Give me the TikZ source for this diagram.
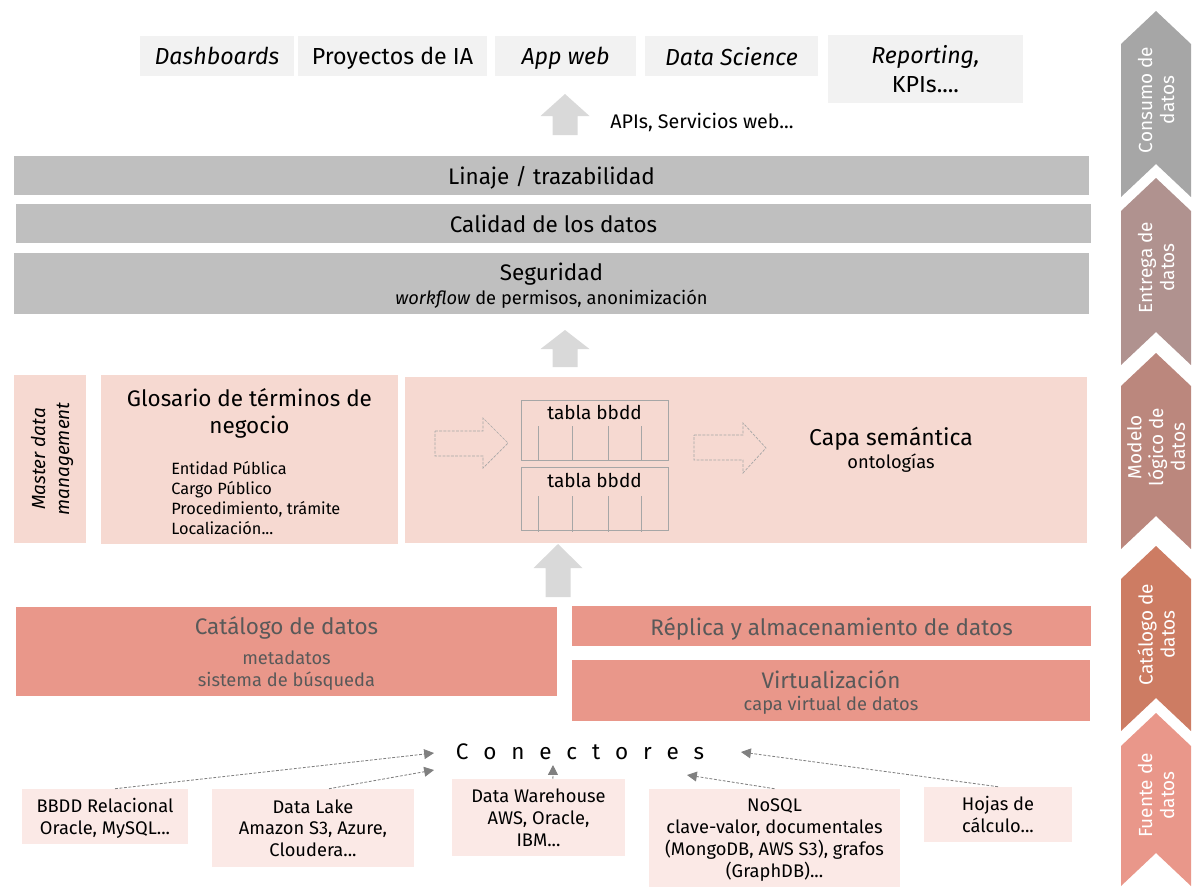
\documentclass[tikz,border=0pt]{standalone}
\usepackage{fontspec}
\setmainfont{Fira Sans}
\usepackage{tikz}
\usetikzlibrary{arrows.meta}
\definecolor{topgray}{HTML}{F2F2F2}
\definecolor{bargray}{HTML}{BFBFBF}
\definecolor{arrowgray}{HTML}{D9D9D9}
\definecolor{pinkbg}{HTML}{F6D9D1}
\definecolor{salmon}{HTML}{E9978A}
\definecolor{srcbg}{HTML}{FBE9E6}
\definecolor{darktext}{HTML}{595959}
\definecolor{conngray}{HTML}{808080}
\definecolor{tablegray}{HTML}{A6A6A6}
\definecolor{chevA}{HTML}{A6A6A6}
\definecolor{chevB}{HTML}{B0928F}
\definecolor{chevC}{HTML}{BB877D}
\definecolor{chevD}{HTML}{CD7C63}
\definecolor{chevE}{HTML}{E9978A}
\newcommand{\bigtext}{\fontsize{16}{19}\selectfont}
\newcommand{\midtext}{\fontsize{13}{15.5}\selectfont}
\newcommand{\smalltext}{\fontsize{11.6}{14.2}\selectfont}

\begin{document}
\begin{tikzpicture}[x=0.025cm, y=-0.025cm,
	 every node/.style={inner sep=0pt, align=center, text depth=0pt},
	 topbox/.style={fill=topgray, minimum height=1cm, font=\fontsize{16.5}{20}\selectfont},
	 bar/.style={fill=bargray, minimum width=26.875cm, font=\bigtext},
	 pinkbox/.style={fill=pinkbg},
	 salmonbox/.style={fill=salmon, text=darktext, font=\bigtext},
	 srcbox/.style={fill=srcbg, font=\midtext},
	 tablebox/.style={draw=tablegray, line width=0.6pt, minimum width=3.675cm},
	 hollowarrow/.style={draw=tablegray, dash pattern=on 2pt off 1pt, line width=0.5pt},
	 chevtext/.style={rotate=90, text=white, font=\fontsize{13.5}{15.5}\selectfont},
	 conn/.style={draw=conngray, dash pattern=on 2pt off 1.2pt, line width=0.6pt,
	   -{Triangle[length=7pt, width=7pt]}}]
	    \useasboundingbox (0,0) rectangle (1204,889);
	    % consumo
	    \node[topbox, minimum width=3.85cm] (dash) at (217,56) {\itshape Dashboards};
	    \node[topbox, minimum width=4.725cm] (ia) at (392.5,56) {Proyectos de IA};
	    \node[topbox, minimum width=3.525cm] (app) at (565.5,56) {\itshape App web};
	    \node[topbox, minimum width=4.325cm] (ds) at (731.5,56) {\itshape Data Science};
	    \node[topbox, minimum width=4.875cm, minimum height=1.7cm] (kpi) at (925.5,69) {\itshape Reporting,\\\upshape KPIs....};
	    \node[anchor=west, font=\fontsize{14}{16}\selectfont] (apis) at (610,121) {APIs, Servicios web...};
	    % flechas grises
	    \foreach \cx/\tp/\nk/\bt in {565/94/116/135, 565/330/349/367, 558/544/568/597}
	        \fill[arrowgray] (\cx-12.5,\bt) -- (\cx-12.5,\nk) -- (\cx-24.5,\nk) -- (\cx,\tp)
	            -- (\cx+24.5,\nk) -- (\cx+12.5,\nk) -- (\cx+12.5,\bt) -- cycle;
	    % entrega
	    \node[bar, minimum height=0.975cm] (lin) at (551.5,175.5) {Linaje / trazabilidad};
	    \node[bar, minimum height=0.975cm] (cal) at (553.5,223.5) {Calidad de los datos};
	    \node[bar, minimum height=1.525cm] (seg) at (551.5,283.5) {Seguridad\\[-2pt]\midtext\textit{workflow} de permisos, anonimización};
	    % modelo logico
	    \node[pinkbox, minimum width=1.8cm, minimum height=4.2cm] (mdm) at (50,459) {};
	    \node[rotate=90, font=\fontsize{13.5}{17}\selectfont\itshape] (mdmtxt) at (mdm) {Master data\\management};
	    \node[pinkbox, minimum width=7.425cm, minimum height=4.225cm] (glo) at (249.5,459.5) {};
	    \node[font=\fontsize{16}{19.5}\selectfont] (glotit) at (249.5,411) {Glosario de términos de\\negocio};
	    \node[anchor=west, align=left, font=\smalltext] (glolist) at (171,498) {Entidad Pública\\Cargo Público\\Procedimiento, trámite\\Localización...};
	    \node[pinkbox, minimum width=17.05cm, minimum height=4.15cm] (sem) at (746,460) {};
	    \draw[hollowarrow] (435,431) -- (483,431) -- (483,418) -- (508,443) -- (483,468) -- (483,456) -- (435,456) -- cycle;
	    \draw[hollowarrow] (694,435) -- (743,435) -- (743,423) -- (766,448) -- (743,473) -- (743,460) -- (694,460) -- cycle;
	    \node[tablebox, minimum height=1.5cm] (tab1) at (594.5,430) {};
	    \node[tablebox, minimum height=1.575cm] (tab2) at (594.5,498.5) {};
	    \node[font=\fontsize{13.5}{16}\selectfont] (tab1txt) at (594.5,412) {tabla bbdd};
	    \node[font=\fontsize{13.5}{16}\selectfont] (tab2txt) at (594.5,480) {tabla bbdd};
	    \foreach \x in {538,572,608,641} {
	        \draw[tablegray, line width=0.6pt] (\x,426) -- (\x,460);
	        \draw[tablegray, line width=0.6pt] (\x,496) -- (\x,532);
	    }
	    \node[font=\fontsize{16.3}{19}\selectfont] (semtxt) at (891,448) {Capa semántica\\[-3pt]\midtext ontologías};
	    % catalogo
	    \node[salmonbox, minimum width=13.525cm, minimum height=2.225cm] (cat) at (286.5,651.5) {Catálogo de datos\\[2pt]\midtext metadatos\\[-3.5pt]\midtext sistema de búsqueda};
	    \node[salmonbox, minimum width=12.975cm, minimum height=1cm] (rep) at (831.5,626) {Réplica y almacenamiento de datos};
	    \node[salmonbox, minimum width=12.95cm, minimum height=1.525cm] (vir) at (831,690.5) {Virtualización\\[-3pt]\midtext capa virtual de datos};
	    % fuentes
	    \node[font=\bigtext] (con) at (580,752) {\spaceskip=0.66em C o n e c t o r e s};
	    \node[srcbox, minimum width=4.15cm, minimum height=1.375cm] (bbdd) at (105,816.5) {BBDD Relacional\\Oracle, MySQL...};
	    \node[srcbox, minimum width=5.05cm, minimum height=1.95cm] (lake) at (313,828) {Data Lake\\Amazon S3, Azure,\\Cloudera...};
	    \node[srcbox, minimum width=4.325cm, minimum height=1.925cm] (dw) at (538.5,817.5) {Data Warehouse\\AWS, Oracle,\\IBM...};
	    \node[srcbox, minimum width=6.275cm, minimum height=2.45cm] (nosql) at (774.5,838) {NoSQL\\clave-valor, documentales\\(MongoDB, AWS S3), grafos\\(GraphDB)...};
	    \node[srcbox, minimum width=3.7cm, minimum height=1.375cm] (hojas) at (998,814.5) {Hojas de\\cálculo...};
	    \coordinate (c1) at (434,753);
	    \coordinate (c2) at (434,770);
	    \coordinate (c3) at (553,765);
	    \coordinate (c4) at (687,775);
	    \coordinate (c5) at (741,752);
	    \draw[conn] ([xshift=0.25cm]bbdd.north) -- (c1);
	    \draw[conn] ([xshift=0.4cm]lake.north) -- (c2);
	    \draw[conn] ([xshift=0.36cm]dw.north) -- (c3);
	    \draw[conn] (nosql.north) -- (c4);
	    \draw[conn] (hojas.north) -- (c5);
	    % etapas
	    \foreach \tp/\bt/\col/\txt [count=\i] in {11/197/chevA/{Consumo de\\datos},
	        178/365/chevB/{Entrega de\\datos}, 353/549/chevC/{Modelo\\lógico de\\datos},
	        546/731/chevD/{Catálogo de\\datos}, 713/886/chevE/{Fuente de\\datos}} {
	        \fill[\col] (1121,\tp+33) -- (1156,\tp) -- (1191,\tp+33) -- (1191,\bt)
	            -- (1156,\bt-33) -- (1121,\bt) -- cycle;
	        \node[chevtext] (chev\i) at (1156,{(\tp+\bt)/2-4}) {\txt};
	    }
\end{tikzpicture}
\end{document}
